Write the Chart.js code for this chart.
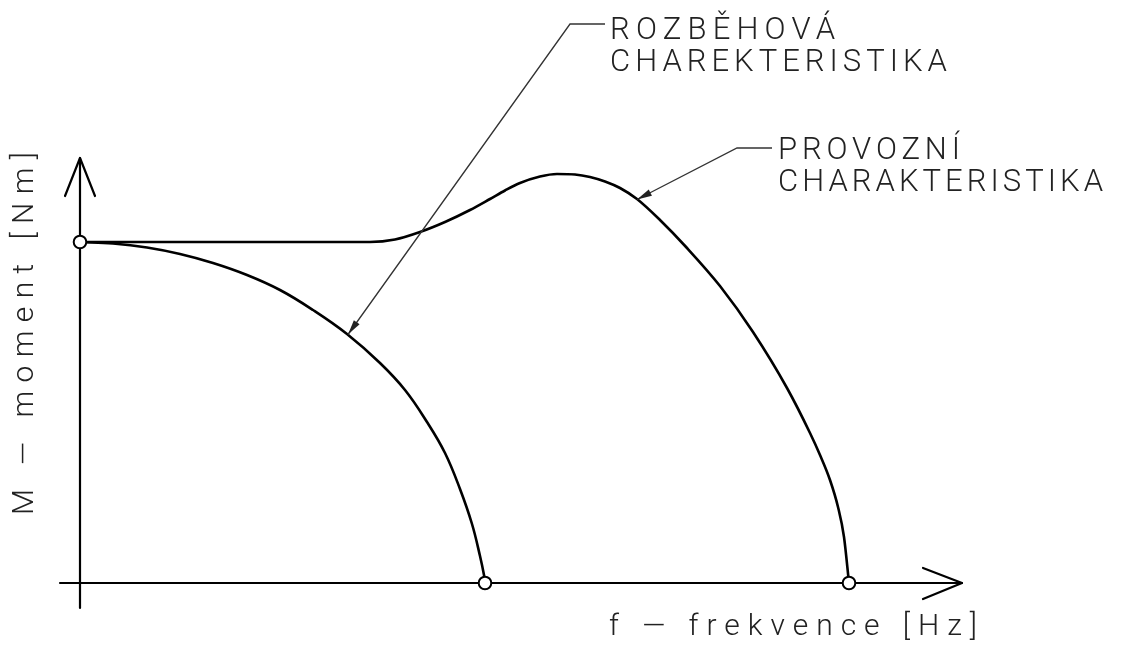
<!DOCTYPE html>
<html><head><meta charset="utf-8">
<script src="https://cdn.jsdelivr.net/npm/chart.js@4.4.1/dist/chart.umd.min.js"></script>
<style>html,body{margin:0;padding:0;background:#fff;}#wrap{width:1123px;height:650px;}</style>
</head><body><div id="wrap"><canvas id="c" width="1123" height="650"></canvas></div>
<script>
// ---- data (frequency units, moment units) ----
const provozniF = [0, 12, 22, 29, 31.5, 34, 36.5, 39, 41, 42.5, 44, 46, 47.7, 49.5, 51, 52.5, 54, 55.7, 58, 60.7, 64, 67.3, 70.7, 73, 74, 75, 75.8, 76.4, 76.9];
const provozniM = [34.1, 34.1, 34.1, 34.1, 34.35, 35.1, 36.1, 37.3, 38.4, 39.25, 40.0, 40.65, 40.9, 40.85, 40.6, 40.15, 39.5, 38.4, 36.3, 33.5, 29.7, 25.1, 19.5, 15.0, 12.8, 10.3, 7.6, 4.6, 0];
const rozbehF = [0, 3.3, 6.7, 10, 13.3, 16.7, 20, 23.3, 26.7, 30, 32.5, 34.7, 36.5, 38, 39.2, 40, 40.4, 40.5];
const rozbehM = [34.1, 33.95, 33.55, 32.9, 32.0, 30.8, 29.3, 27.3, 24.9, 22.0, 19.3, 16.1, 13.0, 9.4, 5.9, 2.7, 0.8, 0];
const markerF = [0, 40.5, 76.9];
const markerM = [34.1, 0, 0];
const labelRozbeh = ["ROZBĚHOVÁ", "CHAREKTERISTIKA"];
const labelProvozni = ["PROVOZNÍ", "CHARAKTERISTIKA"];
const xTitle = "f — frekvence [Hz]";
const yTitle = "M — moment [Nm]";

const zip = (a, b) => a.map((v, i) => ({x: v, y: b[i]}));

const FONT = '"Roboto","Open Sans","DejaVu Sans",sans-serif';
function fitText(ctx, text, x, y, w, size) {
  ctx.save();
  ctx.font = '300 ' + size + 'px ' + FONT;
  ctx.letterSpacing = '0px';
  const m = ctx.measureText(text).width;
  const ls = (w - m) / Math.max(1, text.length - 1);
  ctx.letterSpacing = ls + 'px';
  ctx.fillStyle = '#222';
  ctx.textBaseline = 'alphabetic';
  ctx.textAlign = 'left';
  ctx.fillText(text, x, y);
  ctx.restore();
}
function leader(ctx, pts) {
  ctx.save();
  ctx.strokeStyle = '#333'; ctx.fillStyle = '#222'; ctx.lineWidth = 1.3;
  ctx.beginPath();
  ctx.moveTo(pts[0][0], pts[0][1]);
  for (let i = 1; i < pts.length; i++) ctx.lineTo(pts[i][0], pts[i][1]);
  ctx.stroke();
  const [tx, ty] = pts[0], [nx, ny] = pts[1];
  const a = Math.atan2(ny - ty, nx - tx);
  const L = 15, W = 3.5;
  ctx.beginPath();
  ctx.moveTo(tx, ty);
  ctx.lineTo(tx + L * Math.cos(a) - W * Math.sin(a), ty + L * Math.sin(a) + W * Math.cos(a));
  ctx.lineTo(tx + L * Math.cos(a) + W * Math.sin(a), ty + L * Math.sin(a) - W * Math.cos(a));
  ctx.closePath(); ctx.fill();
  ctx.restore();
}

const decor = {
  id: 'decor',
  beforeDatasetsDraw(chart) {
    const ctx = chart.ctx, X = chart.scales.x, Y = chart.scales.y;
    const ox = X.getPixelForValue(0), oy = Y.getPixelForValue(0);
    ctx.save();
    ctx.strokeStyle = '#000'; ctx.lineWidth = 2.2; ctx.lineCap = 'round'; ctx.lineJoin = 'round';
    const yTop = Y.getPixelForValue(42.5), yBot = Y.getPixelForValue(-2.5);
    ctx.beginPath(); ctx.moveTo(ox, yBot); ctx.lineTo(ox, yTop); ctx.stroke();
    ctx.beginPath(); ctx.moveTo(ox - 15, yTop + 38); ctx.lineTo(ox, yTop); ctx.lineTo(ox + 15, yTop + 38); ctx.stroke();
    const xL = X.getPixelForValue(-2), xR = X.getPixelForValue(88.2);
    ctx.beginPath(); ctx.moveTo(xL, oy); ctx.lineTo(xR, oy); ctx.stroke();
    ctx.beginPath(); ctx.moveTo(xR - 39, oy - 15); ctx.lineTo(xR, oy); ctx.lineTo(xR - 39, oy + 16); ctx.stroke();
    ctx.restore();
  },
  afterDraw(chart) {
    const ctx = chart.ctx, X = chart.scales.x, Y = chart.scales.y;
    const P = (f, m) => [X.getPixelForValue(f), Y.getPixelForValue(m)];
    leader(ctx, [P(26.8, 24.85), P(49, 55.9), P(52.5, 55.9)]);
    leader(ctx, [P(55.7, 38.35), P(65.7, 43.5), P(69.2, 43.5)]);
    let p = P(53, 54.4); fitText(ctx, labelRozbeh[0], p[0], p[1], 225, 31);
    p = P(53, 51.25); fitText(ctx, labelRozbeh[1], p[0], p[1], 337, 31);
    p = P(69.8, 42.4); fitText(ctx, labelProvozni[0], p[0], p[1], 182, 31);
    p = P(69.8, 39.25); fitText(ctx, labelProvozni[1], p[0], p[1], 325, 31);
    fitText(ctx, xTitle, 609, 635, 368, 30);
    ctx.save();
    ctx.translate(33, 515); ctx.rotate(-Math.PI / 2);
    fitText(ctx, yTitle, 0, 0, 363, 30);
    ctx.restore();
  }
};

new Chart(document.getElementById('c'), {
  type: 'line',
  data: {
    datasets: [
      {data: zip(markerF, markerM), showLine: false, pointRadius: 6.3, pointBackgroundColor: '#fff', pointBorderColor: '#000', pointBorderWidth: 2, order: 0},
      {data: zip(provozniF, provozniM), borderColor: '#000', borderWidth: 2.6, pointRadius: 0, cubicInterpolationMode: 'monotone', fill: false, order: 1},
      {data: zip(rozbehF, rozbehM), borderColor: '#000', borderWidth: 2.6, pointRadius: 0, tension: 0.4, fill: false, order: 2}
    ]
  },
  options: {
    responsive: false, animation: false, devicePixelRatio: 1,
    layout: {padding: 0, autoPadding: false},
    clip: false,
    plugins: {legend: {display: false}, tooltip: {enabled: false}},
    scales: {
      x: {type: 'linear', min: -8, max: 104.3, display: false},
      y: {type: 'linear', min: -6.7, max: 58.3, display: false}
    }
  },
  plugins: [decor]
});
</script></body></html>
